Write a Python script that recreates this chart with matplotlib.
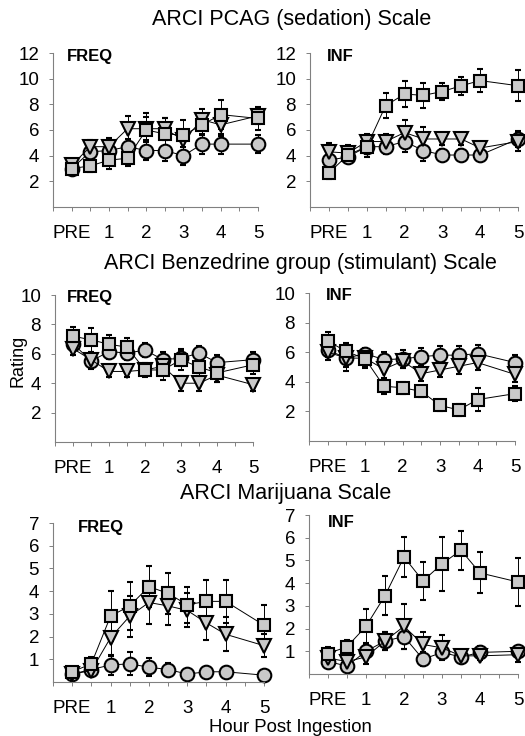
import matplotlib
matplotlib.use('Agg')
import matplotlib.pyplot as plt
import numpy as np

plt.rcParams['font.family'] = ['Liberation Sans', 'DejaVu Sans']

hours = [0, 0.5, 1, 1.5, 2, 2.5, 3, 3.5, 4, 5]
tick_pos = [0, 1, 2, 3, 4, 5]
tick_labels = ['PRE', '1', '2', '3', '4', '5']

# ARCI PCAG (sedation)
pcag_freq_sq = [3.0, 3.2, 3.65, 3.8, 6.0, 5.7, 5.6, 6.4, 7.2, 6.9]
pcag_freq_sq_err = [0.4, 0.5, 0.7, 0.6, 1.3, 1.2, 1.2, 0.8, 1.1, 0.9]
pcag_freq_tri = [3.25, 4.7, 4.7, 6.1, 6.1, 6.1, 5.2, 6.8, 6.4, 7.1]
pcag_freq_tri_err = [0.3, 0.5, 0.7, 1.0, 0.9, 0.8, 0.8, 0.8, 0.9, 0.6]
pcag_freq_cir = [3.0, 4.3, 4.4, 4.7, 4.4, 4.4, 4.0, 4.9, 4.9, 4.9]
pcag_freq_cir_err = [0.3, 0.5, 0.6, 0.6, 0.7, 0.8, 0.7, 0.8, 0.8, 0.7]

pcag_inf_sq = [2.65, 4.05, 4.7, 7.9, 8.8, 8.7, 9.0, 9.45, 9.85, 9.45]
pcag_inf_sq_err = [0.5, 0.6, 0.8, 1.0, 1.0, 1.0, 0.7, 0.7, 0.9, 1.2]
pcag_inf_tri = [4.3, 4.2, 5.1, 5.1, 5.8, 5.3, 5.3, 5.3, 4.6, 5.1]
pcag_inf_tri_err = [0.7, 0.6, 0.6, 0.6, 1.0, 0.9, 0.5, 0.5, 0.3, 0.7]
pcag_inf_cir = [3.65, 3.9, 4.7, 4.7, 5.1, 4.4, 4.05, 4.05, 4.05, 5.3]
pcag_inf_cir_err = [0.5, 0.4, 0.6, 0.6, 0.8, 0.8, 0.5, 0.5, 0.4, 0.6]

# ARCI Benzedrine group (stimulant)
bg_freq_sq = [7.2, 6.95, 6.65, 6.45, 4.9, 4.9, 5.6, 5.1, 4.7, 5.25]
bg_freq_sq_err = [0.6, 0.8, 0.6, 0.6, 0.5, 0.7, 0.7, 0.6, 0.6, 0.6]
bg_freq_tri = [6.35, 5.6, 4.8, 4.8, 4.9, 5.15, 4.0, 4.0, 4.55, 3.9]
bg_freq_tri_err = [0.4, 0.5, 0.4, 0.4, 0.4, 0.6, 0.5, 0.5, 0.5, 0.4]
bg_freq_cir = [6.7, 5.5, 6.15, 6.05, 6.25, 5.6, 5.7, 6.05, 5.4, 5.6]
bg_freq_cir_err = [0.5, 0.5, 0.5, 0.5, 0.5, 0.5, 0.5, 0.5, 0.5, 0.5]

bg_inf_sq = [6.75, 6.05, 5.55, 3.7, 3.6, 3.35, 2.4, 2.1, 2.8, 3.2]
bg_inf_sq_err = [0.6, 0.6, 0.6, 0.5, 0.4, 0.4, 0.4, 0.4, 0.8, 0.5]
bg_inf_tri = [6.0, 5.6, 5.6, 4.85, 5.4, 4.55, 4.8, 5.05, 5.3, 4.5]
bg_inf_tri_err = [0.5, 0.6, 0.5, 0.6, 0.5, 0.5, 0.5, 0.5, 0.5, 0.5]
bg_inf_cir = [6.15, 5.6, 5.9, 5.5, 5.55, 5.7, 5.8, 5.8, 5.9, 5.3]
bg_inf_cir_err = [0.5, 0.9, 0.4, 0.5, 0.6, 0.6, 0.6, 0.6, 0.6, 0.5]

# ARCI Marijuana
mj_freq_sq = [0.45, 0.8, 2.9, 3.35, 4.2, 3.9, 3.4, 3.55, 3.55, 2.5]
mj_freq_sq_err = [0.2, 0.3, 1.1, 1.05, 0.9, 0.9, 0.8, 0.95, 0.95, 0.9]
mj_freq_tri = [0.35, 0.5, 1.95, 2.9, 3.5, 3.35, 3.15, 2.6, 2.1, 1.6]
mj_freq_tri_err = [0.2, 0.2, 0.8, 0.9, 0.95, 0.85, 0.75, 0.75, 0.75, 0.5]
mj_freq_cir = [0.35, 0.55, 0.75, 0.8, 0.65, 0.55, 0.35, 0.45, 0.45, 0.3]
mj_freq_cir_err = [0.2, 0.2, 0.45, 0.5, 0.4, 0.3, 0.2, 0.2, 0.2, 0.2]

mj_inf_sq = [0.9, 1.2, 2.1, 3.45, 5.15, 4.1, 4.85, 5.45, 4.45, 4.05]
mj_inf_sq_err = [0.3, 0.3, 0.75, 0.85, 0.9, 0.85, 1.2, 0.85, 0.9, 1.05]
mj_inf_tri = [0.7, 0.55, 0.75, 1.45, 2.1, 1.3, 1.15, 0.8, 0.8, 0.85]
mj_inf_tri_err = [0.2, 0.2, 0.3, 0.4, 1.0, 0.55, 0.55, 0.2, 0.2, 0.3]
mj_inf_cir = [0.55, 0.35, 1.0, 1.45, 1.65, 0.65, 0.95, 0.75, 0.95, 1.0]
mj_inf_cir_err = [0.2, 0.2, 0.3, 0.4, 0.55, 0.3, 0.3, 0.2, 0.3, 0.2]

W, H = 525, 736
fig = plt.figure(figsize=(W / 100, H / 100), dpi=100)

def px_axes(x0, x1, ytop, ybot):
    return fig.add_axes([x0 / W, 1 - ybot / H, (x1 - x0) / W, (ybot - ytop) / H])

fill = '#c9c9c9'

def draw(ax, series, ymax, yticks, label, lx=0.06, ly=0.985):
    # series: list of (values, errors, marker)
    for vals, errs, mk in series:
        ax.errorbar(hours, vals, yerr=errs, color='black', lw=0.7,
                    elinewidth=0.7, capsize=2.2, capthick=0.7,
                    marker=mk, markersize=9.8 if mk != 's' else 9.2,
                    markerfacecolor=fill, markeredgecolor='black',
                    markeredgewidth=1.5, clip_on=False)
    ax.set_xlim(-0.5, 5)
    ax.set_ylim(0, ymax)
    ax.set_xticks(tick_pos)
    ax.set_xticklabels(tick_labels)
    ax.set_xticks(np.arange(-0.5, 5.01, 0.5), minor=True)
    ax.set_yticks(yticks)
    for s in ['top', 'right']:
        ax.spines[s].set_visible(False)
    for s in ['left', 'bottom']:
        ax.spines[s].set_color('#808080')
        ax.spines[s].set_linewidth(0.8)
    ax.tick_params(axis='both', which='both', direction='out', color='#808080',
                   width=0.7, labelsize=13.5)
    ax.tick_params(axis='x', which='major', length=3, pad=10)
    ax.tick_params(axis='x', which='minor', length=3)
    ax.tick_params(axis='y', length=3, pad=7)
    ax.text(lx, ly, label, transform=ax.transAxes, fontsize=12,
            fontweight='bold', family=['Liberation Sans Narrow', 'Liberation Sans'],
            va='center', ha='left')

ax1 = px_axes(53, 258, 53, 207)
draw(ax1, [(pcag_freq_cir, pcag_freq_cir_err, 'o'),
           (pcag_freq_tri, pcag_freq_tri_err, 'v'),
           (pcag_freq_sq, pcag_freq_sq_err, 's')],
     12, [2, 4, 6, 8, 10, 12], 'FREQ', 0.07, 0.98)
ax2 = px_axes(310, 518, 53, 207)
draw(ax2, [(pcag_inf_cir, pcag_inf_cir_err, 'o'),
           (pcag_inf_tri, pcag_inf_tri_err, 'v'),
           (pcag_inf_sq, pcag_inf_sq_err, 's')],
     12, [2, 4, 6, 8, 10, 12], 'INF', 0.08, 0.98)

ax3 = px_axes(55, 253, 295, 442)
draw(ax3, [(bg_freq_cir, bg_freq_cir_err, 'o'),
           (bg_freq_tri, bg_freq_tri_err, 'v'),
           (bg_freq_sq, bg_freq_sq_err, 's')],
     10, [2, 4, 6, 8, 10], 'FREQ', 0.06, 0.98)
ax4 = px_axes(309, 515, 293, 441)
draw(ax4, [(bg_inf_cir, bg_inf_cir_err, 'o'),
           (bg_inf_tri, bg_inf_tri_err, 'v'),
           (bg_inf_sq, bg_inf_sq_err, 's')],
     10, [2, 4, 6, 8, 10], 'INF', 0.08, 0.98)

ax5 = px_axes(53, 264, 523, 682)
draw(ax5, [(mj_freq_cir, mj_freq_cir_err, 'o'),
           (mj_freq_tri, mj_freq_tri_err, 'v'),
           (mj_freq_sq, mj_freq_sq_err, 's')],
     7, [1, 2, 3, 4, 5, 6, 7], 'FREQ', 0.12, 0.97)
ax6 = px_axes(309, 518, 515, 674)
draw(ax6, [(mj_inf_cir, mj_inf_cir_err, 'o'),
           (mj_inf_tri, mj_inf_tri_err, 'v'),
           (mj_inf_sq, mj_inf_sq_err, 's')],
     7, [1, 2, 3, 4, 5, 6, 7], 'INF', 0.09, 0.95)

fig.text(292 / W, 1 - 20 / H, 'ARCI PCAG (sedation) Scale', ha='center', va='center', fontsize=15.5)
fig.text(300 / W, 1 - 264 / H, 'ARCI Benzedrine group (stimulant) Scale', ha='center', va='center', fontsize=15.5)
fig.text(286 / W, 1 - 493 / H, 'ARCI Marijuana Scale', ha='center', va='center', fontsize=15.5)
fig.text(290 / W, 1 - 727 / H, 'Hour Post Ingestion', ha='center', va='center', fontsize=13.4)
fig.text(18 / W, 1 - 361 / H, 'Rating', ha='center', va='center', rotation=90, fontsize=13)

fig.savefig('out.png', dpi=100)
